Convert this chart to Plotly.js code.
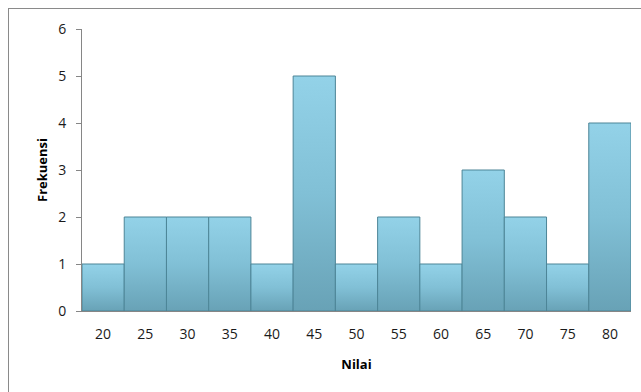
<!DOCTYPE html>
<html>
<head>
<meta charset="utf-8">
<script src="https://cdn.plot.ly/plotly-3.0.1.min.js"></script>
<style>
  html, body { margin: 0; padding: 0; background: #fff; }
  #wrap { position: relative; width: 641px; height: 392px; overflow: hidden; }
  #chart { position: absolute; left: 0; top: 0; width: 641px; height: 392px; }
  #frame { position: absolute; left: 8px; top: 8px; width: 700px; height: 500px;
           border: 1px solid #8a8a8a; box-sizing: border-box; pointer-events: none; }
</style>
</head>
<body>
<div id="wrap">
  <div id="chart"></div>
  <div id="frame"></div>
</div>
<script>
const categories = ["20","25","30","35","40","45","50","55","60","65","70","75","80"];
const frequencies = [1, 2, 2, 2, 1, 5, 1, 2, 1, 3, 2, 1, 4];
const yTicks = [0, 1, 2, 3, 4, 5, 6];
const xTitle = "Nilai";
const yTitle = "Frekuensi";

const font = "Open Sans, Noto Sans, sans-serif";

const trace = {
  type: "bar",
  x: categories,
  y: frequencies,
  marker: { color: "#7dbcd2", line: { color: "#4d8597", width: 1 } },
  hoverinfo: "x+y"
};

const layout = {
  width: 641, height: 392,
  margin: { l: 82, r: 10, t: 29, b: 81 },
  paper_bgcolor: "rgba(0,0,0,0)",
  plot_bgcolor: "rgba(0,0,0,0)",
  bargap: 0,
  showlegend: false,
  font: { family: font, size: 14, color: "#1a1a1a" },
  xaxis: {
    type: "category",
    showline: true, linecolor: "#868686", linewidth: 1,
    ticks: "", showgrid: false, zeroline: false,
    ticklabelstandoff: 10,
    tickfont: { family: font, size: 14, color: "#1a1a1a" },
    title: { text: xTitle, font: { family: font, size: 13, color: "#000", weight: "bold" }, standoff: 18 }
  },
  yaxis: {
    range: [0, 6], tickvals: yTicks,
    showline: true, linecolor: "#868686", linewidth: 1,
    ticks: "outside", ticklen: 5, tickwidth: 1, tickcolor: "#868686",
    showgrid: false, zeroline: false,
    tickfont: { family: font, size: 14, color: "#1a1a1a" },
    title: { text: yTitle, font: { family: font, size: 13, color: "#000", weight: "bold" }, standoff: 14 }
  }
};

Plotly.newPlot("chart", [trace], layout, { displayModeBar: false, staticPlot: true }).then(function (gd) {
  const svg = gd.querySelector("svg.main-svg");
  const ns = "http://www.w3.org/2000/svg";
  let defs = svg.querySelector("defs");
  if (!defs) { defs = document.createElementNS(ns, "defs"); svg.insertBefore(defs, svg.firstChild); }
  const lg = document.createElementNS(ns, "linearGradient");
  lg.setAttribute("id", "barGrad");
  lg.setAttribute("x1", "0"); lg.setAttribute("y1", "0");
  lg.setAttribute("x2", "0"); lg.setAttribute("y2", "1");
  [["0", "#93d2e8"], ["0.5", "#81c0d6"], ["1", "#68a2b6"]].forEach(function (s) {
    const st = document.createElementNS(ns, "stop");
    st.setAttribute("offset", s[0]); st.setAttribute("stop-color", s[1]);
    lg.appendChild(st);
  });
  defs.appendChild(lg);
  gd.querySelectorAll(".bars .point path").forEach(function (p) {
    p.style.fill = "url(#barGrad)";
  });
  // push y tick labels a little further from the axis, as in the reference
  gd.querySelectorAll(".ytick text").forEach(function (t) {
    t.setAttribute("dx", "-7");
  });
});
</script>
</body>
</html>
